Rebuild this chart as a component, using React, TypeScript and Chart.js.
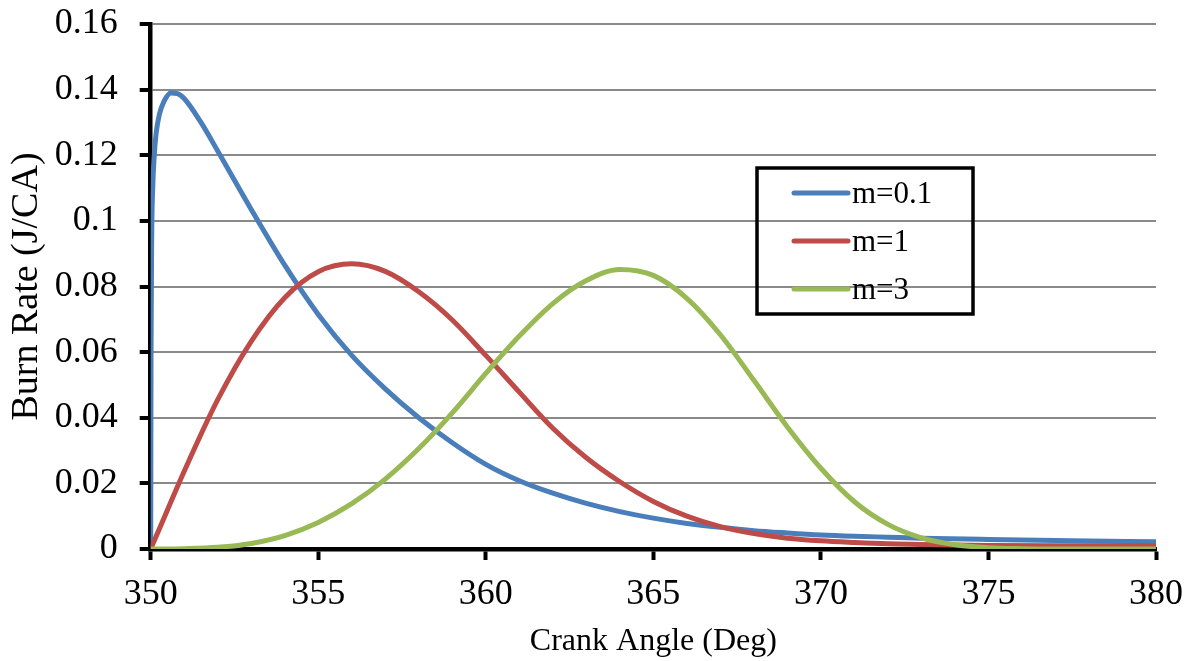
import React, { useEffect, useRef } from 'react';
import { Chart, registerables } from 'chart.js';

Chart.register(...registerables);

// ---- data ----
const seriesLabels = ['m=0.1', 'm=1', 'm=3'];
const seriesColors = ['#4A7EBB', '#BE4B48', '#98B954'];

const xTickValues = [350, 355, 360, 365, 370, 375, 380];
const xTickLabels = ['350', '355', '360', '365', '370', '375', '380'];
const yTickValues = [0, 0.02, 0.04, 0.06, 0.08, 0.1, 0.12, 0.14, 0.16];
const yTickLabels = ['0', '0.02', '0.04', '0.06', '0.08', '0.1', '0.12', '0.14', '0.16'];

// m=0.1 (blue)
const blueX = [350, 350.01, 350.03, 350.06, 350.1, 350.16, 350.26, 350.4, 350.6, 350.8, 351, 351.5, 352, 353, 354, 355, 356, 357, 358, 359, 360, 361, 362, 363, 364, 365, 366, 367, 368, 369, 370, 371, 372, 373, 375, 377.5, 380];
const blueY = [0, 0.06, 0.095, 0.110, 0.119, 0.1265, 0.1325, 0.1365, 0.1390, 0.1388, 0.1373, 0.1300, 0.1213, 0.1035, 0.0865, 0.0715, 0.0590, 0.0488, 0.0400, 0.0324, 0.0258, 0.0208, 0.0170, 0.0139, 0.0114, 0.0094, 0.0078, 0.0066, 0.0056, 0.0049, 0.0043, 0.0039, 0.0036, 0.0033, 0.0029, 0.0025, 0.0022];

// m=1 (red)
const redX = [350, 350.5, 351, 352, 353, 354, 355, 356, 357, 358, 359, 360, 361, 362, 363, 364, 365, 366, 367, 368, 369, 370, 371, 372, 373, 374, 375, 377, 380];
const redY = [0, 0.0119, 0.0237, 0.0455, 0.0633, 0.0766, 0.0845, 0.0869, 0.0846, 0.0784, 0.0698, 0.0590, 0.0478, 0.0368, 0.0278, 0.0205, 0.0145, 0.0100, 0.0068, 0.0047, 0.0033, 0.0025, 0.0020, 0.0016, 0.0014, 0.0012, 0.0011, 0.0010, 0.0010];

// m=3 (green)
const greenX = [350, 351, 352, 353, 354, 355, 356, 357, 358, 359, 360, 361, 362, 363, 364, 365, 366, 367, 368, 369, 370, 371, 372, 373, 374, 375, 376, 377, 380];
const greenY = [0, 0.0001, 0.0005, 0.0017, 0.0041, 0.0081, 0.0138, 0.0213, 0.0306, 0.0415, 0.0535, 0.0649, 0.0748, 0.0818, 0.0852, 0.0834, 0.0764, 0.0653, 0.0514, 0.0372, 0.0246, 0.0144, 0.0075, 0.0034, 0.0013, 0.0004, 0.0001, 0, 0];

const seriesX = [blueX, redX, greenX];
const seriesY = [blueY, redY, greenY];

const FONT = "'Liberation Serif', 'Times New Roman', serif";

const legendBoxPlugin = {
  id: 'legendBox',
  afterDraw(chart: any) {
    const ctx = chart.ctx;
    const left = 757, top = 168, right = 973, bottom = 314;
    ctx.save();
    ctx.strokeStyle = '#000';
    ctx.lineWidth = 3.5;
    ctx.strokeRect(left, top, right - left, bottom - top);
    const rowY = [193, 241, 289];
    chart.data.datasets.forEach((ds: any, i: number) => {
      const y = rowY[i];
      ctx.beginPath();
      ctx.lineCap = 'round';
      ctx.lineWidth = 5;
      ctx.strokeStyle = ds.borderColor;
      ctx.moveTo(794, y);
      ctx.lineTo(848, y);
      ctx.stroke();
      ctx.fillStyle = '#000';
      ctx.font = `31px ${FONT}`;
      ctx.textBaseline = 'middle';
      ctx.textAlign = 'left';
      ctx.fillText(ds.label, 852, y + 2);
    });
    ctx.restore();
  },
};

export default function App() {
  const canvasRef = useRef<HTMLCanvasElement | null>(null);

  useEffect(() => {
    document.body.style.margin = '0';
    const canvas = canvasRef.current;
    if (!canvas) return;
    const datasets = seriesLabels.map((label, i) => ({
      label,
      data: seriesX[i].map((x, j) => ({ x, y: seriesY[i][j] })),
      borderColor: seriesColors[i],
      backgroundColor: seriesColors[i],
      borderWidth: 5,
      pointRadius: 0,
      fill: false,
      cubicInterpolationMode: 'monotone' as const,
      order: 2 - i,
    }));

    const chart = new Chart(canvas, {
      type: 'line',
      data: { datasets },
      plugins: [legendBoxPlugin],
      options: {
        animation: false,
        responsive: true,
        maintainAspectRatio: false,
        layout: { padding: { left: 0, right: 35, top: 24, bottom: 0 } },
        plugins: {
          legend: { display: false },
          tooltip: { enabled: false },
        },
        scales: {
          x: {
            type: 'linear',
            min: 350,
            max: 380,
            afterFit: (s: any) => { s.height = 112; s.paddingLeft = 0; s.paddingRight = 0; },
            afterBuildTicks: (s: any) => { s.ticks = xTickValues.map((v) => ({ value: v })); },
            ticks: {
              color: '#000',
              font: { family: FONT, size: 36 },
              padding: 13,
              maxRotation: 0,
              autoSkip: false,
              callback: (v: any) => {
                const k = xTickValues.indexOf(Number(v));
                return k >= 0 ? xTickLabels[k] : '';
              },
            },
            grid: {
              display: true,
              drawOnChartArea: false,
              drawTicks: true,
              tickLength: 11,
              tickColor: '#000',
              tickWidth: 4,
            },
            border: { display: true, color: '#000', width: 4.5 },
            title: {
              display: true,
              text: 'Crank Angle (Deg)',
              color: '#000',
              font: { family: FONT, size: 32 },
              padding: { top: 0, bottom: 0 },
            },
          },
          y: {
            type: 'linear',
            min: 0,
            max: 0.16,
            afterFit: (s: any) => { s.width = 150.7; s.paddingTop = 0; s.paddingBottom = 0; },
            afterBuildTicks: (s: any) => { s.ticks = yTickValues.map((v) => ({ value: v })); },
            ticks: {
              color: '#000',
              font: { family: FONT, size: 36 },
              padding: 22,
              autoSkip: false,
              callback: (v: any) => {
                const k = yTickValues.findIndex((t) => Math.abs(t - Number(v)) < 1e-9);
                return k >= 0 ? yTickLabels[k] : '';
              },
            },
            grid: {
              display: true,
              drawOnChartArea: true,
              drawTicks: true,
              tickLength: 11,
              tickColor: '#000',
              tickWidth: 4,
              lineWidth: 2,
              color: (c: any) => (c.tick && Math.abs(c.tick.value) < 1e-9 ? 'rgba(0,0,0,0)' : '#8A8A8A'),
            },
            border: { display: true, color: '#000', width: 4.5 },
            title: {
              display: true,
              text: 'Burn Rate (J/CA)',
              color: '#000',
              font: { family: FONT, size: 38 },
              padding: { top: 4, bottom: 0 },
            },
          },
        },
      },
    });
    return () => chart.destroy();
  }, []);

  return (
    <div style={{ position: 'relative', width: 1191, height: 661, background: '#fff' }}>
      <canvas ref={canvasRef} />
    </div>
  );
}
